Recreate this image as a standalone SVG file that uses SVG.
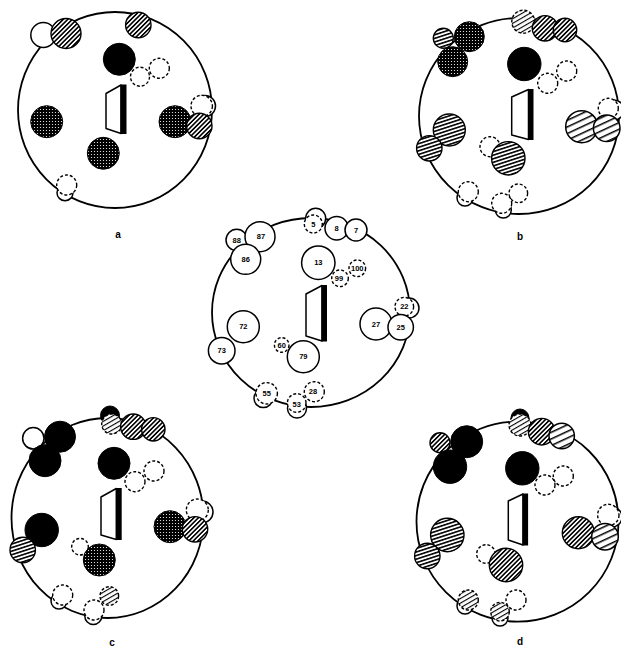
<svg xmlns="http://www.w3.org/2000/svg" width="621" height="648" viewBox="0 0 621 648">
<defs>
<pattern id="phd" width="3.2" height="3.2" patternUnits="userSpaceOnUse" patternTransform="rotate(-45)"><rect width="3.2" height="3.2" fill="#fff"/><rect width="3.2" height="1.6" fill="#000"/></pattern>
<pattern id="phh" width="3.4" height="3.4" patternUnits="userSpaceOnUse" patternTransform="rotate(-18)"><rect width="3.4" height="3.4" fill="#fff"/><rect width="3.4" height="1.6" fill="#000"/></pattern>
<pattern id="phw" width="6" height="6" patternUnits="userSpaceOnUse" patternTransform="rotate(-25)"><rect width="6" height="6" fill="#fff"/><rect width="6" height="1.5" fill="#000"/></pattern>
<pattern id="pst" width="3" height="3" patternUnits="userSpaceOnUse"><rect width="3" height="3" fill="#000"/><circle cx="1.5" cy="1.5" r="0.6" fill="#fff"/></pattern>
<pattern id="pdh" width="4" height="4" patternUnits="userSpaceOnUse" patternTransform="rotate(-30)"><rect width="4" height="4" fill="#fff"/><rect width="4" height="1.1" fill="#000"/></pattern>
</defs>
<style>
.big{fill:#fff;stroke:#000;stroke-width:1.8}
.o{fill:#fff;stroke:#000;stroke-width:1.5}
.d{fill:#fff;stroke:#000;stroke-width:1.4;stroke-dasharray:3 2}
.b{fill:#000;stroke:#000;stroke-width:1}
.hd{fill:url(#phd);stroke:#000;stroke-width:1.4}
.hh{fill:url(#phh);stroke:#000;stroke-width:1.4}
.hw{fill:url(#phw);stroke:#000;stroke-width:1.5}
.st{fill:url(#pst);stroke:#000;stroke-width:1}
.dh{fill:url(#pdh);stroke:#000;stroke-width:1.4;stroke-dasharray:3 2}
.tz{fill:#fff;stroke:#000;stroke-width:1.5;stroke-linejoin:round}
.bar{fill:#000}
.n{font-family:"Liberation Sans",Arial,sans-serif;font-size:7.5px;font-weight:bold;text-anchor:middle;fill:#000}
.lab{font-family:"Liberation Sans",Arial,sans-serif;font-size:10px;font-weight:bold;text-anchor:middle;fill:#000}
</style>
<rect width="621" height="648" fill="#fff"/>

<g id="diagram-a">
<ellipse class="big" cx="115" cy="110" rx="97" ry="98"/>
<circle class="o" cx="43.3" cy="35" r="12.5"/>
<circle class="hd" cx="66" cy="33.5" r="15"/>
<circle class="hd" cx="138.3" cy="25" r="12.7"/>
<circle class="b" cx="119.3" cy="59.3" r="16"/>
<circle class="d" cx="140" cy="76.7" r="9.5"/>
<circle class="d" cx="159.3" cy="68.3" r="10"/>
<circle class="st" cx="46.7" cy="121.7" r="16"/>
<circle class="st" cx="103.3" cy="153.3" r="16"/>
<circle class="o" cx="205" cy="106" r="10.5"/>
<circle class="d" cx="201.7" cy="106" r="10.7"/>
<circle class="st" cx="175" cy="121.7" r="16"/>
<circle class="hd" cx="199.3" cy="126" r="12.7"/>
<circle class="o" cx="65" cy="192.7" r="8"/>
<circle class="d" cx="66.7" cy="185" r="10"/>
<polygon class="tz" points="106,93.5 121,85 121,133.5 106,128.5"/>
<rect class="bar" x="120.5" y="84.5" width="6" height="49.5"/>
<text class="lab" x="118" y="237.5">a</text>
</g>

<g id="diagram-b">
<ellipse class="big" cx="519" cy="116" rx="100" ry="98"/>
<circle class="hh" cx="443.3" cy="38.3" r="10"/>
<circle class="st" cx="469.3" cy="36.7" r="15"/>
<circle class="st" cx="452.7" cy="61.7" r="15"/>
<circle class="dh" cx="523.3" cy="21.7" r="11.5"/>
<circle class="hd" cx="545" cy="28.3" r="12.7"/>
<circle class="hd" cx="565" cy="30" r="11.7"/>
<circle class="b" cx="524.3" cy="64" r="16.7"/>
<circle class="d" cx="566.7" cy="71" r="10"/>
<circle class="d" cx="547.7" cy="83.3" r="10"/>
<circle class="o" cx="614" cy="110" r="10"/>
<circle class="d" cx="608.3" cy="108.3" r="10"/>
<circle class="hw" cx="581.7" cy="126.7" r="16"/>
<circle class="hw" cx="606.7" cy="128.3" r="13.3"/>
<circle class="hh" cx="449.3" cy="130" r="16"/>
<circle class="hh" cx="429.3" cy="148.3" r="12.7"/>
<circle class="d" cx="490" cy="146.7" r="10"/>
<circle class="hh" cx="508.3" cy="158.3" r="16.7"/>
<circle class="o" cx="465" cy="198" r="8"/>
<circle class="d" cx="468.3" cy="191.7" r="10"/>
<circle class="d" cx="518.3" cy="193.3" r="9.3"/>
<circle class="o" cx="503.3" cy="210" r="8"/>
<circle class="d" cx="501.7" cy="203.3" r="10"/>
<polygon class="tz" points="511.7,97 528.5,89.5 528.5,139.5 511.7,135"/>
<rect class="bar" x="528" y="89" width="5.5" height="51"/>
<text class="lab" x="520" y="239.5">b</text>
</g>

<g id="diagram-center">
<ellipse class="big" cx="311" cy="312.5" rx="99" ry="94.5"/>
<g id="n5"><circle class="o" cx="315.7" cy="218.3" r="10"/><circle class="d" cx="313.3" cy="224" r="9"/><text class="n" x="313.3" y="226.7">5</text></g>
<g id="n8"><circle class="o" cx="336.7" cy="228.3" r="11.7"/><text class="n" x="336.7" y="231">8</text></g>
<g id="n7"><circle class="o" cx="356" cy="230" r="11"/><text class="n" x="356" y="232.7">7</text></g>
<g id="n88"><circle class="o" cx="236.7" cy="240" r="10.7"/><text class="n" x="236.7" y="242.7">88</text></g>
<g id="n87"><circle class="o" cx="260" cy="236.7" r="15"/><text class="n" x="261" y="239.4">87</text></g>
<g id="n86"><circle class="o" cx="245.7" cy="259.3" r="15"/><text class="n" x="245.7" y="262">86</text></g>
<g id="n13"><circle class="o" cx="318.3" cy="262.7" r="16.7"/><text class="n" x="318.3" y="265.4">13</text></g>
<g id="n99"><circle class="d" cx="340" cy="278.3" r="8.3"/><text class="n" x="339" y="281">99</text></g>
<g id="n100"><circle class="d" cx="357.3" cy="268.3" r="8.3"/><text class="n" x="357.3" y="271">100</text></g>
<g id="n22"><circle class="o" cx="409" cy="308" r="10"/><circle class="d" cx="404.3" cy="306.7" r="9.3"/><text class="n" x="404.3" y="309.4">22</text></g>
<g id="n27"><circle class="o" cx="376" cy="324" r="16"/><text class="n" x="376" y="326.7">27</text></g>
<g id="n25"><circle class="o" cx="400.7" cy="327.3" r="12.7"/><text class="n" x="400.7" y="330">25</text></g>
<g id="n72"><circle class="o" cx="243.3" cy="326.7" r="16"/><text class="n" x="243.3" y="329.4">72</text></g>
<g id="n73"><circle class="o" cx="221.7" cy="350.7" r="13.3"/><text class="n" x="221.7" y="353.4">73</text></g>
<g id="n60"><circle class="d" cx="281.7" cy="345" r="7.3"/><text class="n" x="281.7" y="347.7">60</text></g>
<g id="n79"><circle class="o" cx="303.3" cy="356.7" r="16"/><text class="n" x="303.3" y="359.4">79</text></g>
<g id="n55"><circle class="o" cx="263.3" cy="398.3" r="9.3"/><circle class="d" cx="266.7" cy="393.3" r="10.7"/><text class="n" x="266.7" y="396">55</text></g>
<g id="n28"><circle class="d" cx="314.3" cy="391.7" r="10"/><text class="n" x="313" y="394.4">28</text></g>
<g id="n53"><circle class="o" cx="297" cy="408.5" r="9.5"/><circle class="d" cx="296.7" cy="403" r="9.3"/><text class="n" x="296.7" y="406.5">53</text></g>
<polygon class="tz" points="306,294 322,285.5 322,341 306,336"/>
<rect class="bar" x="321.5" y="285" width="5.5" height="56.5"/>
</g>

<g id="diagram-c">
<ellipse class="big" cx="107.5" cy="518" rx="96" ry="100"/>
<circle class="o" cx="33.3" cy="438.3" r="10.7"/>
<circle class="b" cx="60" cy="436.7" r="15.5"/>
<circle class="b" cx="45" cy="460.7" r="16"/>
<circle class="b" cx="110" cy="415.5" r="9.5"/>
<circle class="dh" cx="111.7" cy="424" r="10"/>
<circle class="hd" cx="133.3" cy="426.7" r="12.7"/>
<circle class="hd" cx="153.3" cy="429.3" r="11.7"/>
<circle class="b" cx="114" cy="463.3" r="16"/>
<circle class="d" cx="135" cy="481.7" r="10"/>
<circle class="d" cx="154" cy="471" r="10"/>
<circle class="b" cx="41.7" cy="530" r="16.7"/>
<circle class="hh" cx="22.7" cy="550" r="12.7"/>
<circle class="d" cx="80" cy="546.7" r="8.3"/>
<circle class="st" cx="99.3" cy="560" r="16"/>
<circle class="o" cx="202" cy="512" r="11"/>
<circle class="d" cx="197.3" cy="510" r="11"/>
<circle class="st" cx="170" cy="526.7" r="16"/>
<circle class="hd" cx="195" cy="529.3" r="12.7"/>
<circle class="o" cx="59" cy="601" r="8"/>
<circle class="d" cx="62.7" cy="595" r="10"/>
<circle class="dh" cx="109.3" cy="596" r="9.3"/>
<circle class="o" cx="93.3" cy="616" r="8.5"/>
<circle class="d" cx="94" cy="610" r="10"/>
<polygon class="tz" points="101,497 116.3,488.5 116.3,539.5 101,535"/>
<rect class="bar" x="116" y="488" width="5.7" height="52"/>
<text class="lab" x="112" y="646">c</text>
</g>

<g id="diagram-d">
<ellipse class="big" cx="517.5" cy="521.7" rx="101" ry="100"/>
<circle class="hd" cx="440" cy="442.7" r="10"/>
<circle class="b" cx="466.7" cy="441.7" r="16"/>
<circle class="b" cx="450" cy="466.7" r="16.7"/>
<circle class="b" cx="520" cy="418" r="9"/>
<circle class="dh" cx="520" cy="425" r="11"/>
<circle class="hd" cx="541.7" cy="431.7" r="13.3"/>
<circle class="hw" cx="561.7" cy="436" r="12.7"/>
<circle class="b" cx="522.3" cy="468.3" r="16.7"/>
<circle class="d" cx="545" cy="485" r="10"/>
<circle class="d" cx="563.3" cy="476" r="10"/>
<circle class="hh" cx="447.3" cy="535" r="16.7"/>
<circle class="hh" cx="427.3" cy="556" r="12.7"/>
<circle class="d" cx="486" cy="554" r="9.3"/>
<circle class="hd" cx="506" cy="565" r="16.7"/>
<circle class="o" cx="612" cy="517" r="10"/>
<circle class="d" cx="608.3" cy="515" r="10.7"/>
<circle class="hd" cx="578.3" cy="532.7" r="16"/>
<circle class="hw" cx="605" cy="536.7" r="13.3"/>
<circle class="o" cx="465" cy="606" r="8"/>
<circle class="dh" cx="468.3" cy="600" r="10"/>
<circle class="d" cx="516" cy="600" r="10"/>
<circle class="o" cx="500" cy="618" r="8"/>
<circle class="dh" cx="500" cy="611.7" r="9.3"/>
<polygon class="tz" points="508.3,501 523,494 523,545 508.3,540"/>
<rect class="bar" x="522.5" y="493.5" width="5.6" height="52"/>
<text class="lab" x="520" y="645">d</text>
</g>
</svg>
